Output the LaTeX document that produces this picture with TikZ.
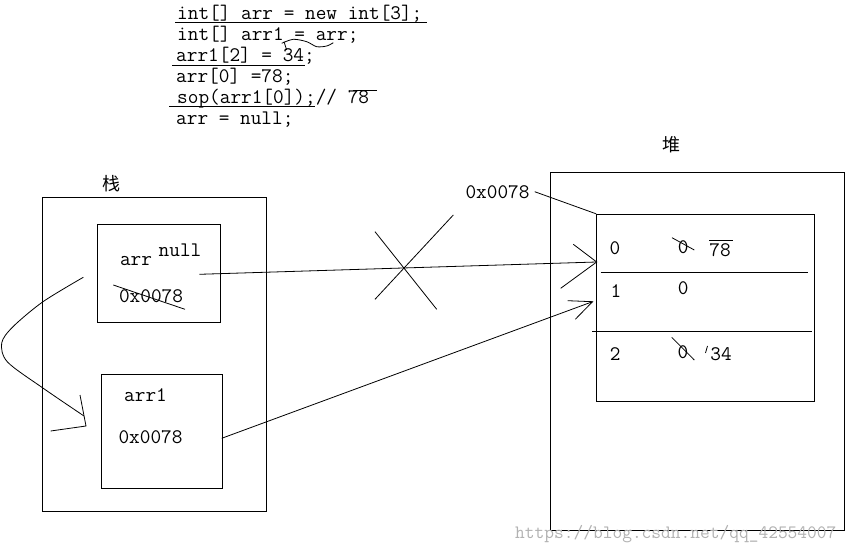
\documentclass[tikz,border=0pt]{standalone}
\usepackage{fontspec}
\newfontfamily\cjk{Noto Sans CJK SC}
\begin{document}
\begin{tikzpicture}[x=1pt,y=-1pt,
  box/.style={draw, line width=1pt, inner sep=0pt},
  mono/.style={font=\fontsize{20.7}{24}\selectfont\ttfamily, inner sep=0pt},
  code/.style={mono, anchor=base west},
  hand/.style={line width=0.8pt},
  zh/.style={font=\fontsize{18}{20}\selectfont\cjk, inner sep=0pt},
  wm/.style={font=\fontsize{18.9}{20}\selectfont\ttfamily, text=black!30, inner sep=0pt, anchor=west}
  ]
\useasboundingbox (0,0) rectangle (856,553);
\fill[white] (0,0) rectangle (856,553);

% code lines
\node[code] (c1) at (177,19.5) {int[] arr = new int[3];};
\node[code] (c2) at (177,40.5) {int[] arr1 = arr;};
\node[code] (c3) at (176,61.5) {arr1[2] = 34;};
\node[code] (c4) at (176,82.5) {arr[0] =78;};
\node[code] (c5) at (177,103.5) {sop(arr1[0]);// 78};
\node[code] (c6) at (176,124.5) {arr = null;};
\draw[hand] (175,22.7) -- (427,22.7);
\draw[hand] (172,65) -- (305,65);
\draw[hand] (169,106) -- (315,106);
\draw[hand] (353,90) -- (377,90);
\draw[hand] plot[smooth] coordinates {(281.7,43.3) (293.3,39.3) (306.7,41.7) (316.7,46.7) (326.7,46) (333.3,42.7)};
\draw[hand] (284,41.7) -- (286.7,50);

% stack
\node[zh] (zhan) at (111.7,184) {栈};
\node[box, minimum width=224.4pt, minimum height=313.6pt] (stack) at (154.5,354.5) {};
\node[box, minimum width=123.4pt, minimum height=98pt] (arrbox) at (159,273.3) {};
\node[box, minimum width=121pt, minimum height=113.7pt] (arr1box) at (161.8,431.2) {};
\node[mono] (arrlbl) at (136,261) {arr};
\node[mono] (nulllbl) at (180,250) {null};
\node[mono] (arrval) at (151,296) {0x0078};
\draw[hand] (113.3,285) -- (185,309.3);
\node[mono] (arr1lbl) at (145.5,395) {arr1};
\node[mono] (arr1val) at (150.5,437) {0x0078};

% heap
\node[zh] (dui) at (671.7,145) {堆};
\node[box, minimum width=294pt, minimum height=357.3pt] (heap) at (697.3,351.4) {};
\node[box, minimum width=217.6pt, minimum height=186.7pt] (array) at (705.5,307.7) {};
\coordinate (d1a) at (600.7,272.3); \coordinate (d1b) at (807.7,272.3);
\coordinate (d2a) at (592.3,331.3); \coordinate (d2b) at (811.7,331.3);
\draw[line width=1pt] (d1a) -- (d1b);
\draw[line width=1pt] (d2a) -- (d2b);
\node[mono] (i0) at (615,248.3) {0};
\node[mono] (v0) at (683.3,246.7) {0};
\draw[hand] (672,237.7) -- (694.3,250);
\node[mono] (n78) at (720,250) {78};
\draw[hand] (709,240) -- (733.3,240);
\node[mono] (i1) at (616,291) {1};
\node[mono] (v1) at (683.3,288.3) {0};
\node[mono] (i2) at (615.3,354) {2};
\node[mono] (v2) at (683,351.7) {0};
\draw[hand] (671.7,337.3) -- (694.3,360);
\node[mono] (n34) at (721,354.5) {34};
\draw[hand] (707.5,346) -- (705.5,353);

\node[mono] (addr) at (497.5,191.7) {0x0078};
\draw[hand] (addr.east) ++(5,0) coordinate (addrp) -- (array.north west);

% arr -> heap[0]
\coordinate (arrp) at (199.3,274.3);
\coordinate (t0) at (596.7,262);
\draw[hand] (arrp) -- (t0);
\draw[hand] (573.3,244.3) -- (t0) -- (560.7,288.3);
% cross
\draw[hand] (375,231.7) -- (436.7,309.3);
\draw[hand] (453.3,215) -- (375,299.3);

% arr1 -> heap[1]
\coordinate (arr1p) at (221.7,438.3);
\coordinate (t1) at (592.5,301.7);
\draw[hand] (arr1p) -- (t1);
\draw[hand] (567.7,300.7) -- (t1) -- (575.3,319.3);

% curved arrow
\coordinate (cs) at (83.3,277.3);
\coordinate (ce) at (84,416);
\coordinate (ct) at (86,426);
\draw[hand] plot[smooth] coordinates {(cs) (43,301.7) (13,326.7) (1.7,343) (7.5,362) (43.3,388.3) (ce)};
\draw[hand] (80,395) -- (ct) -- (50.7,431);

% watermark
\node[wm] (wmk) at (515,534) {https://blog.csdn.net/qq\_42554007};
\end{tikzpicture}
\end{document}
